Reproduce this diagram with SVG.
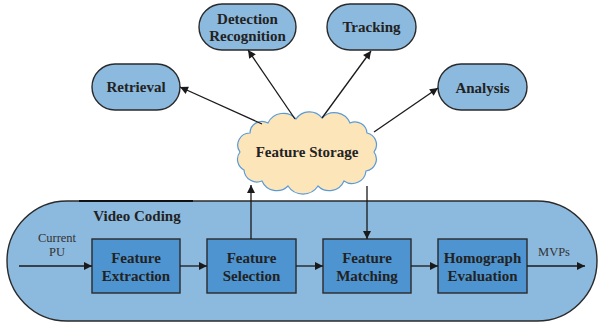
<svg xmlns="http://www.w3.org/2000/svg" width="598" height="325" viewBox="0 0 598 325">
<defs>
<marker id="ah" viewBox="0 0 10 10" refX="10" refY="5" markerWidth="9" markerHeight="8" markerUnits="userSpaceOnUse" orient="auto">
<path d="M0,0 L10,5 L0,10 z" fill="#1a1a1a"/>
</marker>
</defs>
<style>
.top{fill:#8cb9de;stroke:#2a2a2a;stroke-width:1.4}
.box{fill:#4e94d0;stroke:#2a2a2a;stroke-width:1.4}
.t{font-family:"Liberation Serif","Times New Roman",serif;font-weight:bold;font-size:15px;fill:#222;text-anchor:middle}
.s{font-family:"Liberation Serif","Times New Roman",serif;font-size:12.5px;fill:#333;text-anchor:middle}
.c{stroke:#1a1a1a;stroke-width:1.3;fill:none;marker-end:url(#ah)}
</style>
<rect width="598" height="325" fill="#fff"/>
<g id="video-coding">
<rect x="7" y="201" width="590" height="120" rx="60" ry="60" fill="#8cb9de" stroke="#2a2a2a" stroke-width="1.4"/>
<line x1="79" y1="201" x2="193" y2="201" stroke="#111" stroke-width="2.2"/>
<text class="t" x="137" y="221">Video Coding</text>
<text class="s" x="57" y="242">Current</text>
<text class="s" x="57" y="256">PU</text>
<text class="s" x="554" y="256">MVPs</text>
</g>
<g id="retrieval"><rect class="top" x="92" y="64" width="88" height="46" rx="23"/><text class="t" x="136" y="92">Retrieval</text></g>
<g id="detection"><rect class="top" x="199" y="4" width="97" height="46" rx="23"/><text class="t" x="247.5" y="23.5">Detection</text><text class="t" x="247.5" y="41">Recognition</text></g>
<g id="tracking"><rect class="top" x="327" y="4" width="89" height="46" rx="23"/><text class="t" x="371.5" y="32">Tracking</text></g>
<g id="analysis"><rect class="top" x="438" y="64" width="89" height="46" rx="23"/><text class="t" x="482.5" y="93">Analysis</text></g>
<g id="feature-storage">
<path d="M240,152 A12,12 0 0 1 250,133 A12,12 0 0 1 268,123 A17,17 0 0 1 296,119 A16,16 0 0 1 322,118 A17,17 0 0 1 350,123 A12,12 0 0 1 367,133 A12,12 0 0 1 374,152 A12,12 0 0 1 366,171 A14,14 0 0 1 344,181 A16,16 0 0 1 318,186 A18,18 0 0 1 288,186 A16,16 0 0 1 262,181 A13,13 0 0 1 244,170 A12,12 0 0 1 240,152 Z" fill="#fde5ba" stroke="#5b9bd5" stroke-width="1.2"/>
<text class="t" x="307" y="157">Feature Storage</text>
</g>
<g id="feature-extraction"><rect class="box" x="92" y="239" width="88" height="54"/><text class="t" x="136" y="263">Feature</text><text class="t" x="136" y="281">Extraction</text></g>
<g id="feature-selection"><rect class="box" x="207" y="239" width="89" height="54"/><text class="t" x="251.5" y="263">Feature</text><text class="t" x="251.5" y="281">Selection</text></g>
<g id="feature-matching"><rect class="box" x="323" y="239" width="88" height="54"/><text class="t" x="367" y="263">Feature</text><text class="t" x="367" y="281">Matching</text></g>
<g id="homograph-evaluation"><rect class="box" x="438" y="239" width="89" height="54"/><text class="t" x="482.5" y="263">Homograph</text><text class="t" x="482.5" y="281">Evaluation</text></g>
<g id="connectors">
<line class="c" x1="262" y1="124" x2="180" y2="87"/>
<line class="c" x1="295" y1="119" x2="248" y2="50"/>
<line class="c" x1="322" y1="118" x2="371" y2="51"/>
<line class="c" x1="374" y1="132" x2="438" y2="88"/>
<line class="c" x1="251" y1="239" x2="251" y2="185"/>
<line class="c" x1="367" y1="186" x2="367" y2="239"/>
<line class="c" x1="19" y1="266" x2="92" y2="266"/>
<line class="c" x1="180" y1="266" x2="207" y2="266"/>
<line class="c" x1="296" y1="266" x2="323" y2="266"/>
<line class="c" x1="411" y1="266" x2="438" y2="266"/>
<line class="c" x1="527" y1="266" x2="585" y2="266"/>
</g>
</svg>
